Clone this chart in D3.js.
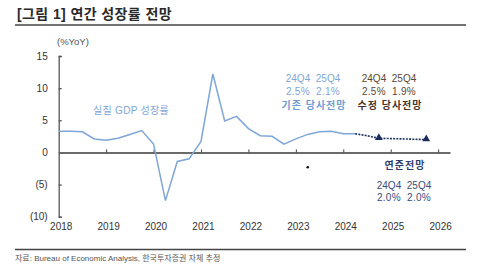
<!DOCTYPE html>
<html>
<head>
<meta charset="utf-8">
<script src="https://cdn.jsdelivr.net/npm/d3@7"></script>
<style>
  body { margin: 0; background: #fff; }
  text { font-family: "Liberation Sans", "Noto Sans CJK KR", sans-serif; }
</style>
</head>
<body>
<div id="chart"></div>
<script>
// quarterly real GDP growth, %YoY (actual)
var gdpQuarters = ["2018Q1","2018Q2","2018Q3","2018Q4","2019Q1","2019Q2","2019Q3","2019Q4",
                   "2020Q1","2020Q2","2020Q3","2020Q4","2021Q1","2021Q2","2021Q3","2021Q4",
                   "2022Q1","2022Q2","2022Q3","2022Q4","2023Q1","2023Q2","2023Q3","2023Q4",
                   "2024Q1","2024Q2"];
var gdpValues = [3.3, 3.3, 3.2, 2.1, 1.9, 2.2, 2.8, 3.4,
                 1.3, -7.5, -1.4, -1.0, 1.7, 12.2, 4.9, 5.6,
                 3.7, 2.6, 2.5, 1.3, 2.1, 2.8, 3.2, 3.3,
                 2.9, 2.9];

// Fed projection (dotted)
var fedQuarters = ["2024Q2","2024Q3","2024Q4","2025Q1","2025Q2","2025Q3","2025Q4"];
var fedValues = [2.9, 2.6, 2.2, 2.15, 2.1, 2.05, 2.0];

// triangle markers
var markerQuarters = ["2024Q4","2025Q4"];
var markerValues = [2.2, 2.0];

// stray point
var dotQuarters = ["2023Q2"];
var dotValues = [-2.3];

var years = [2018, 2019, 2020, 2021, 2022, 2023, 2024, 2025, 2026];
var yTicks = [15, 10, 5, 0, -5, -10];

function qx(q) { return +q.slice(0, 4) + (+q.slice(5) - 1) / 4; }

var svg = d3.select("#chart").append("svg")
  .attr("width", 500).attr("height", 264);

var x = d3.scaleLinear().domain([2018, 2026.25]).range([58.7, 450]);
var y = d3.scaleLinear().domain([-10, 15]).range([216.7, 56]);

// title
svg.append("text")
  .attr("x", 17).attr("y", 18.5)
  .style("font-size", "14px").style("font-weight", "bold").style("letter-spacing", "0.4px")
  .attr("fill", "#2a2a2a")
  .text("[그림 1] 연간 성장률 전망");
svg.append("line")
  .attr("x1", 15).attr("x2", 466).attr("y1", 25).attr("y2", 25)
  .attr("stroke", "#444").attr("stroke-width", 1.3);

// unit
svg.append("text")
  .attr("x", 57).attr("y", 45)
  .style("font-size", "9.5px").attr("fill", "#555")
  .text("(%YoY)");

// y axis
var yAxis = svg.append("g")
  .attr("transform", "translate(" + x(2018) + ",0)")
  .call(d3.axisRight(y).tickValues(yTicks).tickSize(3)
    .tickFormat(function(d) { return d < 0 ? "(" + (-d) + ")" : d; }));
yAxis.select(".domain").attr("stroke", "#555").attr("stroke-width", 1.3);
yAxis.selectAll(".tick line").attr("stroke", "#555").attr("stroke-width", 1.3);
yAxis.selectAll(".tick text")
  .attr("x", -11).attr("text-anchor", "end")
  .style("font-size", "10px").attr("fill", "#333");

// zero axis with small ticks above
var zeroAxis = svg.append("g")
  .attr("transform", "translate(0," + y(0) + ")")
  .call(d3.axisBottom(x).tickValues(years.slice(1)).tickSize(-3).tickSizeOuter(0).tickFormat(""));
zeroAxis.select(".domain").attr("stroke", "#6a6a6a").attr("stroke-width", 2);
zeroAxis.selectAll(".tick line").attr("stroke", "#444").attr("stroke-width", 1);

// year labels at bottom
var yearAxis = svg.append("g")
  .attr("transform", "translate(2," + y(-10) + ")")
  .call(d3.axisBottom(x).tickValues(years).tickSize(0).tickFormat(d3.format("d")));
yearAxis.select(".domain").remove();
yearAxis.selectAll(".tick text")
  .attr("dy", "1.05em")
  .style("font-size", "10px").attr("fill", "#333");

// GDP line
var gdpData = gdpQuarters.map(function(q, i) { return {x: qx(q), v: gdpValues[i]}; });
var line = d3.line().x(function(d) { return x(d.x); }).y(function(d) { return y(d.v); });
svg.append("path")
  .datum(gdpData)
  .attr("d", line)
  .attr("fill", "none").attr("stroke", "#7ea6d8").attr("stroke-width", 1.5);

// Fed dotted line
var fedData = fedQuarters.map(function(q, i) { return {x: qx(q), v: fedValues[i]}; });
svg.append("path")
  .datum(fedData)
  .attr("d", line)
  .attr("fill", "none").attr("stroke", "#22335e").attr("stroke-width", 1.6)
  .attr("stroke-dasharray", "2,1.2");

// triangles
svg.selectAll(".tri")
  .data(markerQuarters.map(function(q, i) { return {x: qx(q), v: markerValues[i]}; }))
  .enter().append("path")
  .attr("class", "tri")
  .attr("d", d3.symbol().type(d3.symbolTriangle).size(26))
  .attr("transform", function(d) { return "translate(" + x(d.x) + "," + (y(d.v) - 0.5) + ")"; })
  .attr("fill", "#1c2d5c");

// stray dot
svg.selectAll(".dot")
  .data(dotQuarters.map(function(q, i) { return {x: qx(q), v: dotValues[i]}; }))
  .enter().append("circle")
  .attr("cx", function(d) { return x(d.x); })
  .attr("cy", function(d) { return y(d.v); })
  .attr("r", 1.3).attr("fill", "#111");

// annotations
function label(tx, ty, str, color, bold, spacing) {
  svg.append("text")
    .attr("x", tx).attr("y", ty).attr("text-anchor", "middle")
    .style("font-size", "10px").style("font-weight", bold ? "bold" : "normal")
    .style("letter-spacing", (spacing || 0) + "px")
    .style("white-space", "pre").attr("fill", color)
    .text(str);
}
label(131, 114, "실질 GDP 성장률", "#7ea6d8", false, 0.3);

label(313, 82, "24Q4  25Q4", "#7ea6d8");
label(313, 95, "2.5%  2.1%", "#7ea6d8", false, 0.3);
label(314, 109, "기존 당사전망", "#6f9bd3", true, 1);

label(389, 82, "24Q4  25Q4", "#5b4636");
label(389, 95, "2.5%  1.9%", "#5b4636", false, 0.3);
label(390, 109, "수정 당사전망", "#4a3425", true, 1);

label(405, 169, "연준전망", "#2c3d6e", true, 1);
label(404, 189, "24Q4  25Q4", "#3b4b7a");
label(404, 201, "2.0%  2.0%", "#3b4b7a", false, 0.3);

// footer
svg.append("line")
  .attr("x1", 15).attr("x2", 466).attr("y1", 249.5).attr("y2", 249.5)
  .attr("stroke", "#444").attr("stroke-width", 1.3);
svg.append("text")
  .attr("x", 15).attr("y", 261)
  .style("font-size", "8px").attr("fill", "#555")
  .text("자료: Bureau of Economic Analysis, 한국투자증권 자체 추정");
</script>
</body>
</html>
